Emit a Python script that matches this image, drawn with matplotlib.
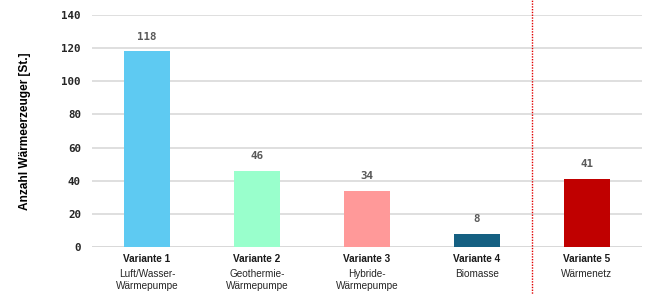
import matplotlib.pyplot as plt
import matplotlib.transforms as mtransforms

# ── Data ──────────────────────────────────────────────────────────────────────
variants = ["Variante 1", "Variante 2", "Variante 3", "Variante 4", "Variante 5"]
subtitles = ["Luft/Wasser-\nWärmepumpe", "Geothermie-\nWärmepumpe", "Hybride-\nWärmepumpe",
             "Biomasse", "Wärmenetz"]
counts = [118, 46, 34, 8, 41]
colors = ["#5ECAF2", "#99FFCC", "#FF9999", "#156082", "#C00000"]
y_ticks = [0, 20, 40, 60, 80, 100, 120, 140]

# ── Plot ──────────────────────────────────────────────────────────────────────
fig = plt.figure(figsize=(6.54, 2.95), dpi=100)
ax = fig.add_axes([92 / 654, 48 / 295, 550 / 654, 232 / 295])

x = list(range(len(counts)))
ax.bar(x, counts, width=0.41, color=colors, zorder=3)

ax.set_xlim(-0.5, len(counts) - 0.5)
ax.set_ylim(0, 140)
ax.set_yticks(y_ticks)
ax.set_yticklabels([str(v) for v in y_ticks], family="DejaVu Sans Mono",
                   fontweight="bold", fontsize=7.8, color="#262626")
ax.tick_params(axis="y", length=0, pad=8)
ax.tick_params(axis="x", length=0, labelbottom=False)
ax.yaxis.grid(True, color="#D9D9D9", linewidth=1.2, zorder=0)
ax.axhline(0, color="#D9D9D9", linewidth=2, zorder=2)
for s in ax.spines.values():
    s.set_visible(False)

ax.set_ylabel("Anzahl Wärmeerzeuger [St.]", family="Liberation Sans",
              fontweight="bold", fontsize=8.6, labelpad=22)

# value labels
for xi, v in zip(x, counts):
    ax.annotate(str(v), (xi, v), xytext=(0, 7), textcoords="offset points",
                ha="center", va="bottom", family="DejaVu Sans Mono",
                fontweight="bold", fontsize=7.8, color="#595959")

# category labels
trans = mtransforms.blended_transform_factory(ax.transData, ax.transAxes)
for xi, name, sub in zip(x, variants, subtitles):
    ax.annotate(name, (xi, 0), xycoords=trans, xytext=(0, -5), textcoords="offset points",
                ha="center", va="top", family="Liberation Sans", fontweight="bold",
                fontsize=7.2, color="#1a1a1a")
    ax.annotate(sub, (xi, 0), xycoords=trans, xytext=(0, -15.5), textcoords="offset points",
                ha="center", va="top", family="Liberation Sans", fontsize=7.2,
                color="#262626", linespacing=1.3)

# separator between variant 4 and 5
ax.plot([3.5, 3.5], [-0.21, 1.07], transform=trans, color="#E00000",
        linestyle=(0, (1, 1)), linewidth=1, clip_on=False, zorder=4)

plt.savefig("out.png", dpi=100)
plt.close()
